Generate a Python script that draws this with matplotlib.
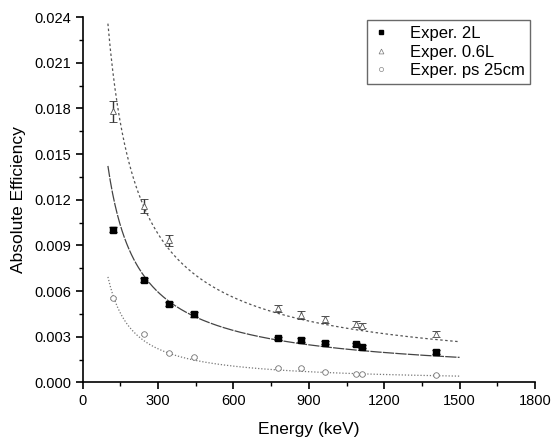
import numpy as np
import matplotlib
matplotlib.use('Agg')
import matplotlib.pyplot as plt
from matplotlib.lines import Line2D

plt.rcParams['font.family'] = ['Liberation Sans', 'DejaVu Sans']

# 감마선 에너지 (keV)
energy = [121.8, 244.7, 344.3, 444.0, 778.9, 867.4, 964.1, 1085.8, 1112.1, 1408.0]

# Exper. 2L
eff_2l = [0.01004, 0.00672, 0.00514, 0.00446, 0.00291, 0.00278, 0.00260, 0.00250, 0.00234, 0.00199]
err_2l = [0.00017, 0.00015, 0.00012, 0.00014, 0.00010, 0.00012, 0.00010, 0.00008, 0.00010, 0.00012]

# Exper. 0.6L (444 keV 없음)
energy_06 = [121.8, 244.7, 344.3, 778.9, 867.4, 964.1, 1085.8, 1112.1, 1408.0]
eff_06 = [0.01780, 0.01157, 0.00934, 0.00486, 0.00442, 0.00414, 0.00383, 0.00372, 0.00317]
err_06 = [0.00068, 0.00045, 0.00035, 0.00025, 0.00025, 0.00022, 0.00018, 0.00018, 0.00018]

# Exper. ps 25cm
eff_ps = [0.00555, 0.00315, 0.00194, 0.00168, 0.00092, 0.00096, 0.00070, 0.00054, 0.00054, 0.00048]
err_ps = [0.00008, 0.00007, 0.00006, 0.00006, 0.00006, 0.00005, 0.00005, 0.00004, 0.00004, 0.00004]

# 피팅 곡선 eff = a * (E/100)^-b
fit_a = [0.01422, 0.02357, 0.00693]
fit_b = [0.797, 0.804, 1.044]
fit_styles = [(0, (9, 1)), (0, (2, 2)), (0, (1, 1.5))]
fit_colors = ['#444444', '#555555', '#777777']

labels = ['Exper. 2L', 'Exper. 0.6L', 'Exper. ps 25cm']

fig = plt.figure(figsize=(5.52, 4.38), dpi=100)
ax = fig.add_axes([0.150, 0.127, 0.819, 0.834])

e_fit = np.linspace(100, 1500, 300)
for a, b, ls, c in zip(fit_a, fit_b, fit_styles, fit_colors):
    ax.plot(e_fit, a * (e_fit / 100.0) ** (-b), linestyle=ls, color=c, linewidth=0.9)

ax.errorbar(energy, eff_2l, yerr=err_2l, fmt='s', color='black', markersize=4,
            ecolor='black', elinewidth=1, capsize=3, capthick=1)
ax.errorbar(energy_06, eff_06, yerr=err_06, fmt='^', color='#555555', markersize=5,
            markerfacecolor='white', markeredgewidth=0.6, ecolor='#333333',
            elinewidth=1, capsize=3, capthick=1)
ax.errorbar(energy, eff_ps, yerr=err_ps, fmt='o', color='#777777', markersize=4,
            markerfacecolor='white', markeredgewidth=0.6, ecolor='#777777',
            elinewidth=1, capsize=2.5, capthick=1)

ax.set_xlim(0, 1800)
ax.set_ylim(0, 0.024)
ax.set_xticks(np.arange(0, 1801, 300))
ax.set_xticks(np.arange(150, 1800, 300), minor=True)
ax.set_yticks(np.arange(0, 0.0241, 0.003))
ax.set_yticks(np.arange(0.0015, 0.024, 0.003), minor=True)
ax.set_yticklabels(['%.3f' % v for v in np.arange(0, 0.0241, 0.003)])

for side in ['top', 'right']:
    ax.spines[side].set_visible(False)
ax.spines['left'].set_linewidth(1.2)
ax.spines['bottom'].set_linewidth(1.2)
ax.tick_params(which='major', direction='out', length=5, width=1.2, labelsize=10.5)
ax.tick_params(which='minor', direction='out', length=3, width=1)

ax.set_xlabel('Energy (keV)', fontsize=12.5, labelpad=10)
ax.set_ylabel('Absolute Efficiency', fontsize=12.5, labelpad=6)

# 범례: 마커만 표시
handles = [
    Line2D([], [], linestyle='none', marker='s', markersize=3, color='black'),
    Line2D([], [], linestyle='none', marker='^', markersize=3.5, color='#777777',
           markerfacecolor='white', markeredgewidth=0.5),
    Line2D([], [], linestyle='none', marker='o', markersize=3, color='#888888',
           markerfacecolor='white', markeredgewidth=0.5),
]
leg = ax.legend(handles, labels, loc='upper right', fontsize=12, frameon=True,
                fancybox=False, edgecolor='#444444', handletextpad=1.2,
                labelspacing=0.22, borderpad=0.35, handlelength=1.0,
                borderaxespad=0, bbox_to_anchor=(0.99, 0.992))
leg.get_frame().set_linewidth(1)

fig.savefig('out.png', dpi=100)
